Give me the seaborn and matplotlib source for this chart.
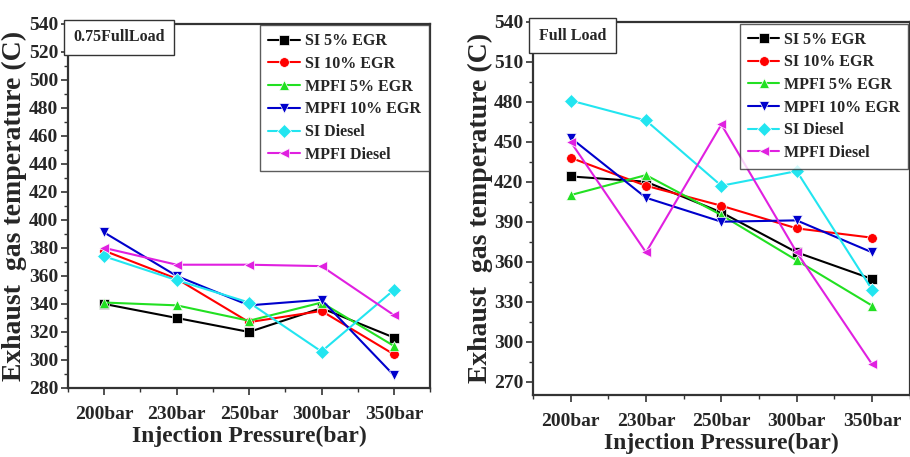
import matplotlib
matplotlib.use("Agg")
import matplotlib.pyplot as plt
import seaborn as sns
import pandas as pd
from matplotlib.ticker import MultipleLocator

pressures = ["200bar", "230bar", "250bar", "300bar", "350bar"]
series_names = ["SI 5% EGR", "SI 10% EGR", "MPFI 5% EGR", "MPFI 10% EGR", "SI Diesel", "MPFI Diesel"]

# 0.75 Full Load
p75_si5 = [340, 330, 320, 337, 316]
p75_si10 = [378, 358, 327, 335, 304]
p75_mpfi5 = [341, 339, 328, 341, 310]
p75_mpfi10 = [391, 360, 339, 343, 289]
p75_sidiesel = [374, 357, 341, 306, 350]
p75_mpfidiesel = [380, 368, 368, 367, 332]

# Full Load
full_si5 = [424, 420, 397, 367, 347]
full_si10 = [438, 417, 402, 385, 378]
full_mpfi5 = [410, 425, 395, 361, 327]
full_mpfi10 = [453, 408, 390, 391, 367]
full_sidiesel = [481, 466, 417, 428, 339]
full_mpfidiesel = [450, 367, 463, 367, 283]

colors = ["#000000", "#FF0000", "#22E022", "#0000CC", "#22E5F0", "#E020E0"]
markers = ["s", "o", "^", "v", "D", "<"]

def long_df(series):
    rows = []
    for name, vals in zip(series_names, series):
        for i, (p, v) in enumerate(zip(pressures, vals)):
            rows.append({"pos": i, "Pressure": p, "Temp": v, "Series": name})
    return pd.DataFrame(rows)

df75 = long_df([p75_si5, p75_si10, p75_mpfi5, p75_mpfi10, p75_sidiesel, p75_mpfidiesel])
dffull = long_df([full_si5, full_si10, full_mpfi5, full_mpfi10, full_sidiesel, full_mpfidiesel])

sns.set_theme(style="white")
plt.rcParams["font.family"] = ["Liberation Serif", "DejaVu Serif"]
plt.rcParams["font.weight"] = "bold"

fig = plt.figure(figsize=(9.1, 4.57), dpi=100)
ax1 = fig.add_axes([0.0747, 0.151, 0.398, 0.797])
ax2 = fig.add_axes([0.5857, 0.136, 0.414, 0.816])

palette = dict(zip(series_names, colors))
mk = dict(zip(series_names, markers))

def draw(ax, df, ylim, major, minor, boxtext):
    sns.lineplot(data=df, x="pos", y="Temp", hue="Series", style="Series",
                 hue_order=series_names, style_order=series_names,
                 palette=palette, markers=mk, dashes=False, ax=ax,
                 linewidth=1.5, markersize=7, markeredgewidth=0.5, sort=False)
    ax.set_xlim(-0.5, len(pressures) - 0.5)
    ax.set_ylim(*ylim)
    ax.set_xticks(range(len(pressures)))
    ax.set_xticklabels(pressures)
    ax.xaxis.set_minor_locator(MultipleLocator(0.5))
    ax.yaxis.set_major_locator(MultipleLocator(major))
    ax.yaxis.set_minor_locator(MultipleLocator(minor))
    ax.tick_params(axis="both", which="major", direction="out", length=5, width=1.2,
                   labelsize=14, color="#333333", bottom=True, left=True, pad=2)
    ax.tick_params(axis="x", which="major", pad=8)
    ax.tick_params(axis="both", which="minor", direction="out", length=3, width=1,
                   color="#333333", bottom=True, left=True)
    ax.tick_params(axis="x", which="both", top=False)
    ax.tick_params(axis="y", which="both", right=False)
    for lab in ax.get_xticklabels() + ax.get_yticklabels():
        lab.set_fontweight("bold")
    for s in ax.spines.values():
        s.set_color("#333333")
        s.set_linewidth(1.6)
    ax.set_xlabel("Injection Pressure(bar)", fontsize=17, fontweight="bold", labelpad=2)
    ax.set_ylabel("Exhaust  gas temperature (C)", fontsize=20, fontweight="bold", labelpad=1)
    ax.grid(False)
    leg = ax.legend(loc="upper right", borderaxespad=0.1, frameon=True, fancybox=False,
                    prop={"weight": "bold", "size": 11.5}, handlelength=2.0,
                    labelspacing=0.42, borderpad=0.5, handletextpad=0.3)
    leg.get_frame().set_edgecolor("#333333")
    leg.get_frame().set_linewidth(1.0)
    ax.text(0.015, 0.985, boxtext, transform=ax.transAxes, ha="left", va="top",
            fontsize=11.5, fontweight="bold",
            bbox=dict(boxstyle="square,pad=0.6", facecolor="white", edgecolor="#333333", linewidth=1.0))

draw(ax1, df75, (280, 540), 20, 10, "0.75FullLoad")
draw(ax2, dffull, (260, 540), 30, 15, "Full Load")

fig.savefig("out.png", dpi=100)
